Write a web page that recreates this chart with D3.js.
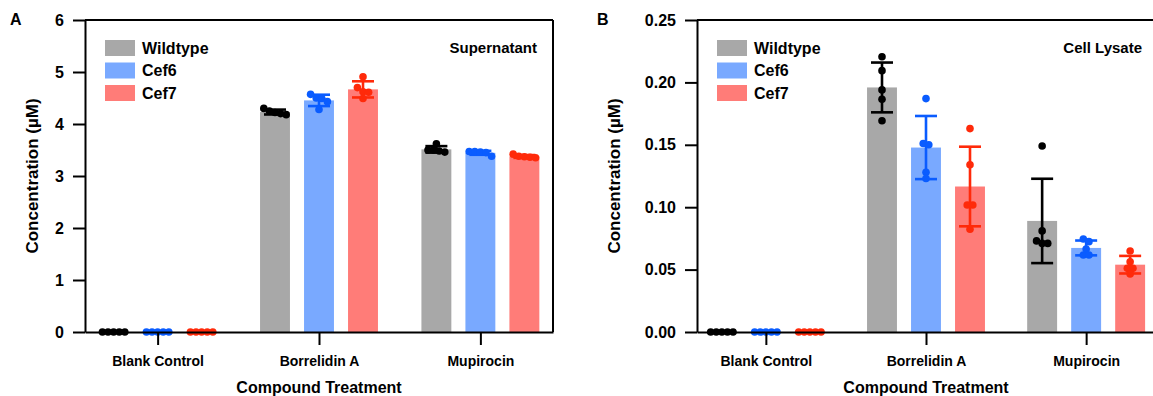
<!DOCTYPE html>
<html>
<head>
<meta charset="utf-8">
<script src="https://cdn.jsdelivr.net/npm/d3@7"></script>
<style>
  body { margin: 0; background: #fff; }
  svg { display: block; font-family: "Liberation Sans", Arial, Helvetica, sans-serif; font-weight: bold; }
</style>
</head>
<body>
<div id="chart"></div>
<script>
// categories and groups
const categories = ['Blank Control', 'Borrelidin A', 'Mupirocin'];
const strains = ['Wildtype', 'Cef6', 'Cef7'];

// replicate values per strain, one array per category (µM)
const supernatantWildtype = [[0, 0, 0, 0, 0], [4.30, 4.22, 4.25, 4.20, 4.18], [3.62, 3.50, 3.48, 3.46, 3.50]];
const supernatantCef6 = [[0, 0, 0, 0, 0], [4.57, 4.49, 4.43, 4.28, 4.50], [3.47, 3.46, 3.38, 3.47, 3.45]];
const supernatantCef7 = [[0, 0, 0, 0, 0], [4.91, 4.62, 4.61, 4.70, 4.49], [3.42, 3.38, 3.35, 3.36, 3.37]];

const lysateWildtype = [[0, 0, 0, 0, 0], [0.2206, 0.2094, 0.194, 0.1865, 0.1693], [0.149, 0.081, 0.073, 0.071, 0.071]];
const lysateCef6 = [[0, 0, 0, 0, 0], [0.187, 0.151, 0.150, 0.128, 0.123], [0.0745, 0.0724, 0.0665, 0.0617, 0.0617]];
const lysateCef7 = [[0, 0, 0, 0, 0], [0.163, 0.134, 0.1018, 0.1018, 0.0823], [0.0649, 0.0563, 0.051, 0.051, 0.0465]];

const supernatantTicks = [0, 1, 2, 3, 4, 5, 6];
const lysateTicks = [0, 0.05, 0.10, 0.15, 0.20, 0.25];

const barColors = ['#a8a8a8', '#79a9ff', '#ff7c78'];
const dotColors = ['#000000', '#0a5cff', '#ff2a0a'];

const width = 1153;
const height = 396;
const plotTop = 20;
const plotBottom = 332;

const panels = [
  { label: 'A', labelX: 10, title: 'Supernatant', titleInset: 16, left: 85, right: 553, pad: 0.45,
    yTitleX: 32, ticks: supernatantTicks, fmt: d3.format('d'),
    data: [supernatantWildtype, supernatantCef6, supernatantCef7] },
  { label: 'B', labelX: 597, title: 'Cell Lysate', titleInset: 13, left: 697, right: 1155, pad: 0.43,
    yTitleX: 614, ticks: lysateTicks, fmt: d3.format('.2f'),
    data: [lysateWildtype, lysateCef6, lysateCef7] },
];

const svg = d3.select('#chart').append('svg')
  .attr('width', width)
  .attr('height', height);

svg.append('rect').attr('width', width).attr('height', height).attr('fill', '#fff');

// spread replicates sideways when they would overlap (simple row swarm)
function swarm(values, y, d) {
  const pts = values.map((v) => ({ v, py: y(v) })).sort((a, b) => a.py - b.py);
  const rows = [];
  pts.forEach((p, i) => {
    if (i > 0 && p.py - pts[i - 1].py < d) rows[rows.length - 1].push(p);
    else rows.push([p]);
  });
  rows.forEach((row) => row.forEach((p, j) => { p.dx = (j - (row.length - 1) / 2) * d; }));
  return pts;
}

panels.forEach((panel) => {
  const g = svg.append('g');

  const y = d3.scaleLinear()
    .domain([0, d3.max(panel.ticks)])
    .range([plotBottom, plotTop]);

  const x = d3.scalePoint()
    .domain(categories)
    .range([panel.left, panel.right])
    .padding(panel.pad);

  const xs = d3.scaleBand()
    .domain(strains)
    .range([-66, 66])
    .paddingInner(0.32)
    .paddingOuter(0.16);

  const bw = xs.bandwidth();

  // bars, error bars, dots
  strains.forEach((s, si) => {
    const reps = panel.data[si];
    categories.forEach((c, ci) => {
      const vals = reps[ci];
      const mean = d3.mean(vals);
      const sd = d3.deviation(vals) || 0;
      const cx = x(c) + xs(s) + bw / 2;

      g.append('rect')
        .attr('x', cx - bw / 2)
        .attr('y', y(mean))
        .attr('width', bw)
        .attr('height', y(0) - y(mean))
        .attr('fill', barColors[si]);

      if (sd > 0) {
        const eb = g.append('g')
          .attr('stroke', dotColors[si])
          .attr('stroke-width', 2.6);
        eb.append('line')
          .attr('x1', cx).attr('x2', cx)
          .attr('y1', y(mean + sd)).attr('y2', y(mean - sd));
        eb.selectAll('line.cap')
          .data([mean + sd, mean - sd])
          .join('line')
          .attr('class', 'cap')
          .attr('x1', cx - 11).attr('x2', cx + 11)
          .attr('y1', (d) => y(d)).attr('y2', (d) => y(d));
      }

      g.append('g').selectAll('circle')
        .data(swarm(vals, y, 5.6))
        .join('circle')
        .attr('cx', (d) => cx + d.dx)
        .attr('cy', (d) => d.py)
        .attr('r', 3.8)
        .attr('fill', dotColors[si]);
    });
  });

  // frame: top and right lines
  g.append('line')
    .attr('x1', panel.left).attr('x2', panel.right)
    .attr('y1', plotTop).attr('y2', plotTop)
    .attr('stroke', '#000').attr('stroke-width', 2);
  g.append('line')
    .attr('x1', panel.right).attr('x2', panel.right)
    .attr('y1', plotTop).attr('y2', plotBottom)
    .attr('stroke', '#000').attr('stroke-width', 2);

  // y axis
  const yAxis = g.append('g')
    .attr('transform', `translate(${panel.left},0)`)
    .call(d3.axisLeft(y).tickValues(panel.ticks).tickFormat(panel.fmt).tickSize(12).tickSizeOuter(0).tickPadding(9));
  yAxis.selectAll('text').attr('font-size', 16).attr('fill', '#000');

  // x axis
  const xAxis = g.append('g')
    .attr('transform', `translate(0,${plotBottom})`)
    .call(d3.axisBottom(x).tickSize(13).tickSizeOuter(0).tickPadding(11));
  xAxis.selectAll('text').attr('font-size', 14).attr('fill', '#000');

  [yAxis, xAxis].forEach((ax) => {
    ax.attr('font-family', null);
    ax.select('.domain').attr('stroke', '#000').attr('stroke-width', 2);
    ax.selectAll('.tick line').attr('stroke', '#000').attr('stroke-width', 2);
  });

  // axis titles
  g.append('text')
    .attr('x', (panel.left + panel.right) / 2)
    .attr('y', 393)
    .attr('text-anchor', 'middle')
    .attr('font-size', 16)
    .text('Compound Treatment');

  g.append('text')
    .attr('transform', `translate(${panel.yTitleX},${(plotTop + plotBottom) / 2}) rotate(-90)`)
    .attr('text-anchor', 'middle')
    .attr('dy', '0.35em')
    .attr('font-size', 17)
    .text('Concentration (µM)');

  // legend
  const legend = g.append('g')
    .attr('transform', `translate(${panel.left + 20},40)`);
  strains.forEach((s, si) => {
    legend.append('rect')
      .attr('x', 0).attr('y', si * 22.5)
      .attr('width', 30).attr('height', 16)
      .attr('fill', barColors[si]);
    legend.append('text')
      .attr('x', 37).attr('y', si * 22.5 + 8)
      .attr('dy', '0.35em')
      .attr('font-size', 16)
      .text(s);
  });

  // panel title and letter
  g.append('text')
    .attr('x', panel.right - panel.titleInset)
    .attr('y', 53)
    .attr('text-anchor', 'end')
    .attr('font-size', 15)
    .text(panel.title);

  g.append('text')
    .attr('x', panel.labelX)
    .attr('y', 25)
    .attr('font-size', 16)
    .text(panel.label);
});
</script>
</body>
</html>
